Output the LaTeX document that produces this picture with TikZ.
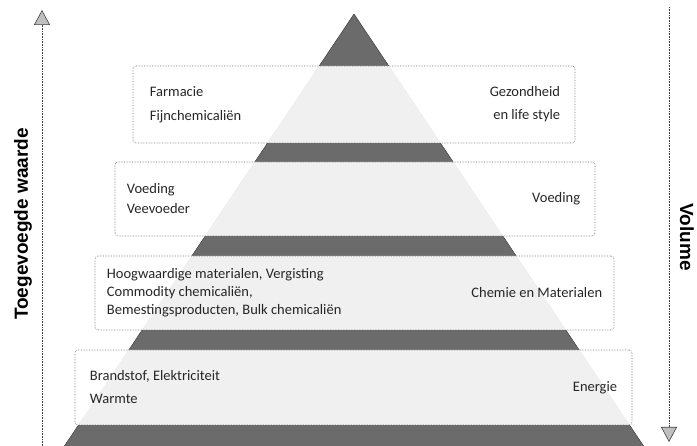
\documentclass[tikz,border=0pt]{standalone}
\usepackage{fontspec}
\setmainfont{Carlito}
\newfontfamily\axisfont{Liberation Sans}
\usetikzlibrary{positioning,arrows.meta}
\begin{document}
\begin{tikzpicture}[x=1pt,y=-1pt,
    tier/.style={draw=black!55,densely dotted,line width=0.6pt,rounded corners=3pt,fill=white,fill opacity=0.9,inner sep=0pt},
    sector/.style={font=\fontsize{14.5}{#1}\selectfont,text=black!85,align=left,inner sep=0pt},
    market/.style={font=\fontsize{14.5}{#1}\selectfont,text=black!85,align=right,inner sep=0pt},
    axis/.style={densely dotted,line width=0.6pt,black!75},
    axislabel/.style={font=\axisfont\bfseries\fontsize{19}{22}\selectfont,inner sep=0pt},
    tip/.style={-{Triangle[width=16pt,length=15pt,fill=black!25]}}]
  \useasboundingbox (0,0) rectangle (697,446);
  \fill[black!58,draw=black!80] (354,14) -- (653,460) -- (55,460) -- cycle;
  \node[tier,minimum width=442pt,minimum height=77pt] (farma) at (354,104.5) {};
  \node[tier,minimum width=480pt,minimum height=74pt] (voed) at (355,199) {};
  \node[tier,minimum width=519pt,minimum height=74pt] (chem) at (354.5,293) {};
  \node[tier,minimum width=557pt,minimum height=75pt] (ener) at (353.5,387.5) {};
  \node[sector=24,right=17pt of farma.west] (farmaL) {Farmacie\\Fijnchemicaliën};
  \node[market=23,left=15pt of farma.east] (farmaR) {Gezondheid\\en life style};
  \node[sector=20,right=12pt of voed.west] (voedL) {Voeding\\Veevoeder};
  \node[market=20,left=15pt of voed.east] (voedR) {Voeding};
  \node[sector=18,right=12pt of chem.west] (chemL) {Hoogwaardige materialen, Vergisting\\Commodity chemicaliën,\\Bemestingsproducten, Bulk chemicaliën};
  \node[market=18,left=12pt of chem.east] (chemR) {Chemie en Materialen};
  \node[sector=23,right=15pt of ener.west] (enerL) {Brandstof, Elektriciteit\\Warmte};
  \node[market=23,left=15pt of ener.east] (enerR) {Energie};
  \coordinate (wbot) at (42,446);
  \coordinate (wtop) at (42,10);
  \draw[axis,tip] (wbot) -- (wtop);
  \node[axislabel,rotate=90] (waarde) at (23,224) {Toegevoegde waarde};
  \coordinate (vtop) at (669,7);
  \coordinate (vbot) at (669,442);
  \draw[axis,tip] (vtop) -- (vbot);
  \node[axislabel,rotate=-90] (volume) at (687,237) {Volume};
\end{tikzpicture}
\end{document}
